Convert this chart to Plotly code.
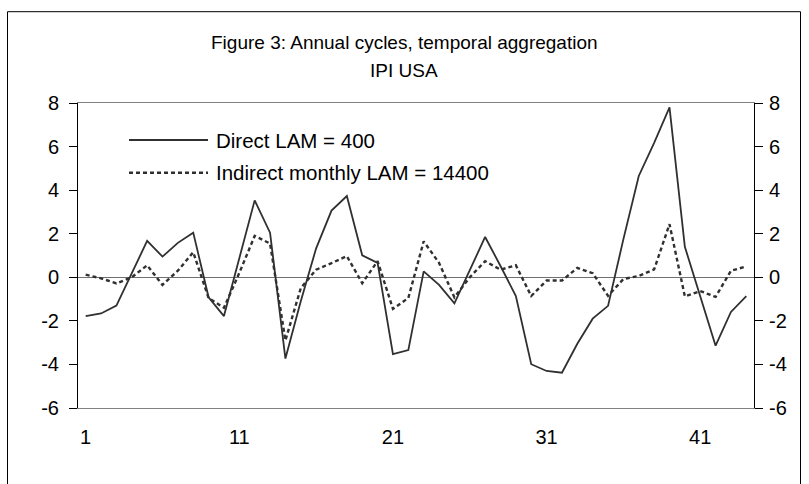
import plotly.graph_objects as go

periods = list(range(1, 45))
direct = [-1.78, -1.66, -1.30, 0.15, 1.67, 0.95, 1.58, 2.05, -0.92, -1.78,
          0.88, 3.53, 2.05, -3.73, -1.10, 1.33, 3.06, 3.73, 1.01, 0.66,
          -3.53, -3.34, 0.27, -0.35, -1.20, 0.32, 1.85, 0.52, -0.86, -3.99,
          -4.30, -4.38, -3.05, -1.90, -1.31, 1.75, 4.65, 6.17, 7.80, 1.40,
          -0.87, -3.14, -1.59, -0.86]
indirect = [0.12, -0.05, -0.28, 0.0, 0.55, -0.35, 0.30, 1.15, -0.95, -1.40,
            0.20, 1.90, 1.55, -2.90, -0.50, 0.35, 0.65, 0.97, -0.27, 0.74,
            -1.45, -0.95, 1.65, 0.66, -0.92, 0.0, 0.74, 0.35, 0.55, -0.86,
            -0.15, -0.15, 0.43, 0.19, -0.85, -0.08, 0.06, 0.36, 2.44, -0.88,
            -0.63, -0.90, 0.30, 0.50]
x_tick_labels = ["1", "11", "21", "31", "41"]
y_ticks = [-6, -4, -2, 0, 2, 4, 6, 8]
y_tick_labels = ["-6", "-4", "-2", "0", "2", "4", "6", "8"]
series_names = ["Direct LAM = 400", "Indirect monthly LAM = 14400"]
title_lines = ["Figure 3: Annual cycles, temporal aggregation", "IPI USA"]

FONT = "Liberation Sans, Arial, sans-serif"
W, H = 809, 484
ML, MR, MT, MB = 78, 55, 103, 76
PW, PH = W - ML - MR, H - MT - MB

def px_x(x):
    return (x - ML) / PW

def px_y(y):
    return (H - MB - y) / PH

LINE_COL = "#303030"

fig = go.Figure()
fig.add_trace(go.Scatter(x=periods, y=direct, mode="lines", name=series_names[0],
                         line=dict(color=LINE_COL, width=1.8), showlegend=False))
fig.add_trace(go.Scatter(x=periods, y=indirect, mode="lines", name=series_names[1],
                         line=dict(color=LINE_COL, width=2.4, dash="4px,3px"),
                         yaxis="y2", showlegend=False))

axis_font = dict(family=FONT, size=20, color="#000000")
fig.update_layout(
    width=W, height=H,
    margin=dict(l=ML, r=MR, t=MT, b=MB, pad=0),
    paper_bgcolor="white", plot_bgcolor="white",
    font=dict(family=FONT, color="#000000"),
    xaxis=dict(range=[0.5, 44.5], tickvals=[int(t) for t in x_tick_labels],
               ticktext=x_tick_labels, ticks="", showgrid=False, zeroline=False,
               showline=True, linecolor="#808080", linewidth=1, mirror=True,
               tickfont=axis_font, ticklabelstandoff=11),
    yaxis=dict(range=[-6, 8], tickvals=y_ticks, ticktext=y_tick_labels,
               ticks="outside", ticklen=8,
               tickcolor="#000000", showgrid=False, zeroline=True,
               zerolinecolor="#707070", zerolinewidth=1,
               showline=True, linecolor="#000000", linewidth=1,
               tickfont=axis_font, ticklabelstandoff=6),
    yaxis2=dict(range=[-6, 8], tickvals=y_ticks, ticktext=y_tick_labels,
                ticks="outside", ticklen=8,
                tickcolor="#000000", showgrid=False, zeroline=False,
                overlaying="y", side="right", anchor="x",
                showline=True, linecolor="#000000", linewidth=1,
                tickfont=axis_font, ticklabelstandoff=2),
    showlegend=False,
)

# outer chart border
fig.add_shape(type="rect", xref="paper", yref="paper",
              x0=px_x(7.5), x1=px_x(800.5), y0=px_y(495), y1=px_y(11.7),
              line=dict(color="#000000", width=1), fillcolor="rgba(0,0,0,0)",
              layer="below")

# title
fig.add_annotation(text=title_lines[0], xref="paper", yref="paper",
                   x=px_x(404), y=px_y(42), showarrow=False,
                   xanchor="center", yanchor="middle",
                   font=dict(family=FONT, size=19, color="#000000"))
fig.add_annotation(text=title_lines[1], xref="paper", yref="paper",
                   x=px_x(404), y=px_y(70), showarrow=False,
                   xanchor="center", yanchor="middle",
                   font=dict(family=FONT, size=19, color="#000000"))

# legend (drawn manually to match long key lines)
leg_y = [140, 172.7]
leg_styles = [dict(color=LINE_COL, width=1.8), dict(color=LINE_COL, width=2.4, dash="4px,3px")]
for name, yy, st in zip(series_names, leg_y, leg_styles):
    fig.add_shape(type="line", xref="paper", yref="paper",
                  x0=px_x(129), x1=px_x(208), y0=px_y(yy), y1=px_y(yy), line=st)
    fig.add_annotation(text=name, xref="paper", yref="paper",
                       x=px_x(214), y=px_y(yy), showarrow=False,
                       xanchor="left", yanchor="middle",
                       font=dict(family=FONT, size=20.5, color="#000000"))

fig.write_html("out.html", config={"displayModeBar": False},
               post_script="document.body.style.margin='0';document.body.style.overflow='hidden';")
